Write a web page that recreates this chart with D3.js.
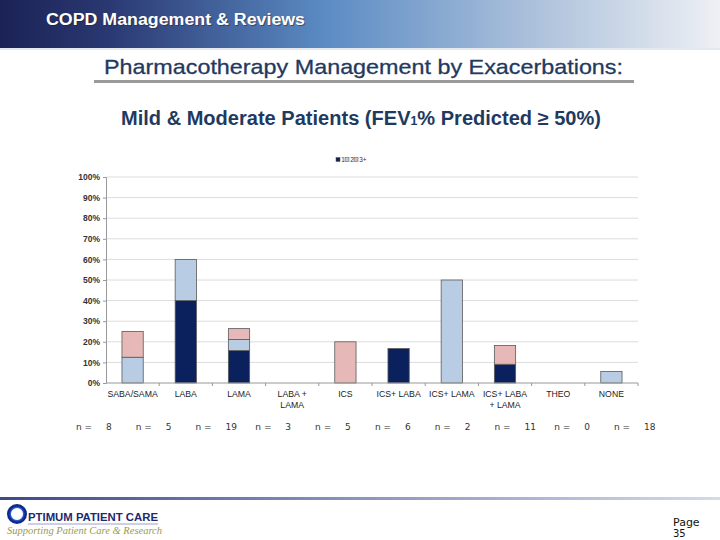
<!DOCTYPE html>
<html>
<head>
<meta charset="utf-8">
<script src="https://cdn.jsdelivr.net/npm/d3@7"></script>
<style>
  body { margin: 0; background: white; }
  svg { display: block; font-family: "Liberation Sans", Arial, sans-serif; }
</style>
</head>
<body>
<script>
// donnees (% de patients)
const categories = ["SABA/SAMA", "LABA", "LAMA", "LABA + LAMA", "ICS", "ICS+ LABA", "ICS+ LAMA", "ICS+ LABA + LAMA", "THEO", "NONE"];
const serie1 = [0, 40, 15.8, 0, 0, 16.7, 0, 9.1, 0, 0];
const serie2 = [12.5, 20, 5.3, 0, 0, 0, 50, 0, 0, 5.6];
const serie3 = [12.5, 0, 5.3, 0, 20, 0, 0, 9.1, 0, 0];
const seriesNoms = ["1", "2", "3+"];
const effectifs = [8, 5, 19, 3, 5, 6, 2, 11, 0, 18];
const yTicks = [0, 10, 20, 30, 40, 50, 60, 70, 80, 90, 100];

const largeur = 720, hauteur = 540;
const couleurs = d3.scaleOrdinal().domain(seriesNoms).range(["#0a215e", "#b8cce4", "#e6b9b8"]);

const svg = d3.select("body").append("svg")
  .attr("width", largeur).attr("height", hauteur);

const defs = svg.append("defs");
const gradHaut = defs.append("linearGradient").attr("id", "gradHaut");
[[0, "#1b2355"], [0.15, "#2a3872"], [0.45, "#5b8bc3"], [0.72, "#a6bdd9"], [1, "#eef0f4"]]
  .forEach(s => gradHaut.append("stop").attr("offset", s[0]).attr("stop-color", s[1]));
const gradBas = defs.append("linearGradient").attr("id", "gradBas");
[[0, "#3b4a8c"], [0.5, "#8a95c0"], [1, "#d6d9e8"]]
  .forEach(s => gradBas.append("stop").attr("offset", s[0]).attr("stop-color", s[1]));
const gradLogo = defs.append("radialGradient").attr("id", "gradLogo");
[[0.5, "#7fb0ff"], [0.8, "#2c5fd8"], [1, "#0d2a8a"]]
  .forEach(s => gradLogo.append("stop").attr("offset", s[0]).attr("stop-color", s[1]));

// bandeau du haut
svg.append("rect").attr("x", 0).attr("y", 0).attr("width", largeur).attr("height", 48)
  .attr("fill", "url(#gradHaut)");
svg.append("rect").attr("x", 0).attr("y", 48).attr("width", largeur).attr("height", 2)
  .attr("fill", "#e4e8ef");
svg.append("text").attr("x", 46).attr("y", 25)
  .attr("fill", "#222").attr("opacity", 0.5)
  .attr("font-size", 16).attr("font-weight", "bold")
  .attr("textLength", 259).attr("lengthAdjust", "spacingAndGlyphs")
  .attr("transform", "translate(1,1)")
  .text("COPD Management & Reviews");
svg.append("text").attr("x", 46).attr("y", 25)
  .attr("fill", "white").attr("font-size", 16).attr("font-weight", "bold")
  .attr("textLength", 259).attr("lengthAdjust", "spacingAndGlyphs")
  .text("COPD Management & Reviews");

// titres
svg.append("text").attr("x", 104).attr("y", 74)
  .attr("fill", "#1f3a5f").attr("font-size", 21)
  .attr("stroke", "#1f3a5f").attr("stroke-width", 0.3)
  .attr("textLength", 519).attr("lengthAdjust", "spacingAndGlyphs")
  .text("Pharmacotherapy Management by Exacerbations:");
svg.append("rect").attr("x", 94).attr("y", 80).attr("width", 540).attr("height", 3)
  .attr("fill", "#9a9a9a");

const sousTitre = svg.append("text").attr("x", 121).attr("y", 125)
  .attr("fill", "#1f3a5f").attr("font-size", 19.5).attr("font-weight", "bold")
  .attr("textLength", 480).attr("lengthAdjust", "spacingAndGlyphs");
sousTitre.append("tspan").text("Mild & Moderate Patients (FEV");
sousTitre.append("tspan").attr("font-size", 12).text("1");
sousTitre.append("tspan").text("% Predicted \u2265 50%)");

// graphique
const x = d3.scaleBand().domain(categories).range([106, 638]).paddingInner(0.6).paddingOuter(0.3);
const xBande = d3.scaleBand().domain(categories).range([106, 638]);
const y = d3.scaleLinear().domain([0, 100]).range([383, 177]);

svg.append("g").selectAll("line").data(yTicks.slice(1)).join("line")
  .attr("x1", 106).attr("x2", 638)
  .attr("y1", d => y(d)).attr("y2", d => y(d))
  .attr("stroke", "#dcdcdc").attr("stroke-width", 1);

const axeY = svg.append("g").attr("transform", "translate(106,0)")
  .call(d3.axisLeft(y).tickValues(yTicks).tickFormat(d => d + "%").tickSize(3).tickPadding(3));
axeY.select(".domain").attr("stroke", "#999");
axeY.selectAll(".tick line").attr("stroke", "#999");
axeY.selectAll("text").attr("font-size", 8.5).attr("font-weight", "bold").attr("fill", "#333")
  .attr("font-family", "Liberation Sans, Arial");

const empile = d3.stack().keys(seriesNoms)(categories.map((c, i) => ({
  cat: c, "1": serie1[i], "2": serie2[i], "3+": serie3[i]
})));

svg.append("g").selectAll("g").data(empile).join("g")
  .attr("fill", d => couleurs(d.key))
  .selectAll("rect").data(d => d.filter(p => p[1] - p[0] > 0)).join("rect")
  .attr("x", d => x(d.data.cat))
  .attr("width", x.bandwidth())
  .attr("y", d => y(d[1]))
  .attr("height", d => y(d[0]) - y(d[1]))
  .attr("stroke", "#5a5a5a").attr("stroke-width", 0.8);

// axe x
svg.append("line").attr("x1", 106).attr("x2", 638).attr("y1", 383).attr("y2", 383)
  .attr("stroke", "#999");
svg.append("g").selectAll("line").data(categories).join("line")
  .attr("x1", d => xBande(d) + xBande.bandwidth()).attr("x2", d => xBande(d) + xBande.bandwidth())
  .attr("y1", 383).attr("y2", 386).attr("stroke", "#999");

const lignesEtiq = {"LABA + LAMA": ["LABA +", "LAMA"], "ICS+ LABA + LAMA": ["ICS+ LABA", "+ LAMA"]};
svg.append("g").selectAll("text").data(categories).join("text")
  .attr("x", d => xBande(d) + xBande.bandwidth() / 2)
  .attr("y", 397)
  .attr("text-anchor", "middle").attr("font-size", 8.7).attr("fill", "#222")
  .each(function(d) {
    const lignes = lignesEtiq[d] || [d];
    d3.select(this).selectAll("tspan").data(lignes).join("tspan")
      .attr("x", xBande(d) + xBande.bandwidth() / 2)
      .attr("dy", (l, i) => i === 0 ? 0 : 10.5)
      .text(l => l);
  });

// legende
const legende = svg.append("g").attr("transform", "translate(336,157)");
const posLeg = d3.scalePoint().domain(seriesNoms).range([0, 18]);
legende.selectAll("rect").data(seriesNoms).join("rect")
  .attr("x", d => posLeg(d)).attr("y", 0.5).attr("width", 4).attr("height", 4)
  .attr("fill", d => couleurs(d)).attr("stroke", "#555").attr("stroke-width", 0.5);
legende.selectAll("text").data(seriesNoms).join("text")
  .attr("x", d => posLeg(d) + 5.2).attr("y", 5)
  .attr("font-size", 6.5).attr("fill", "#333").text(d => d);

// effectifs
const xN = d3.scalePoint().domain(categories).range([76, 614]);
const gN = svg.append("g").attr("font-size", 9).attr("fill", "#333")
  .attr("font-family", "DejaVu Sans, sans-serif");
gN.selectAll("text.n").data(categories).join("text").attr("class", "n")
  .attr("x", d => xN(d)).attr("y", 430).text("n =");
gN.selectAll("text.v").data(effectifs).join("text").attr("class", "v")
  .attr("x", (d, i) => xN(categories[i]) + 30).attr("y", 430).text(d => d);

// pied de page
svg.append("rect").attr("x", 0).attr("y", 497).attr("width", largeur).attr("height", 3)
  .attr("fill", "url(#gradBas)");
svg.append("circle").attr("cx", 17).attr("cy", 514).attr("r", 8)
  .attr("fill", "none").attr("stroke", "url(#gradLogo)").attr("stroke-width", 4);
svg.append("text").attr("x", 28).attr("y", 521)
  .attr("fill", "#1c2a6e").attr("font-size", 11.5).attr("font-weight", "bold")
  .attr("textLength", 130).attr("lengthAdjust", "spacingAndGlyphs")
  .text("PTIMUM PATIENT CARE");
svg.append("line").attr("x1", 28).attr("x2", 158).attr("y1", 524).attr("y2", 524)
  .attr("stroke", "#9aa0c8").attr("stroke-width", 1);
svg.append("text").attr("x", 7).attr("y", 534)
  .attr("fill", "#9c9a4e").attr("font-size", 10.5).attr("font-style", "italic")
  .attr("font-family", "Liberation Serif, serif")
  .attr("textLength", 155).attr("lengthAdjust", "spacingAndGlyphs")
  .text("Supporting Patient Care & Research");
svg.append("text").attr("x", 673).attr("y", 526)
  .attr("fill", "#111").attr("font-size", 11).attr("font-family", "DejaVu Sans, sans-serif")
  .text("Page");
svg.append("text").attr("x", 673).attr("y", 537)
  .attr("fill", "#111").attr("font-size", 10).attr("font-family", "DejaVu Sans, sans-serif")
  .text("35");
</script>
</body>
</html>
